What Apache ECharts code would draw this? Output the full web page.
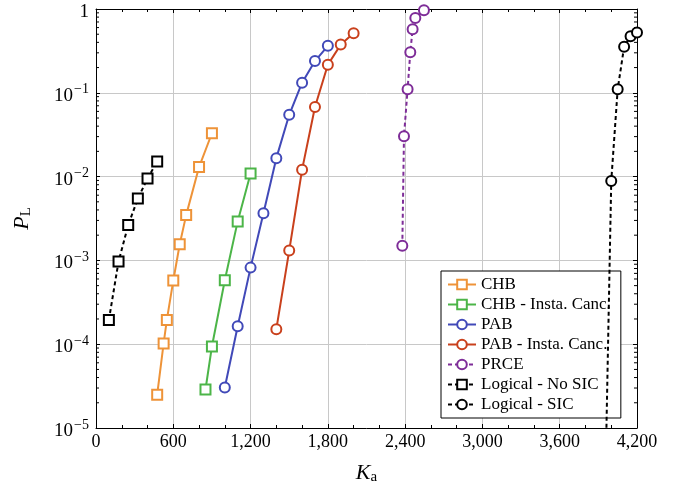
<!DOCTYPE html>
<html><head><meta charset="utf-8">
<script src="https://cdn.jsdelivr.net/npm/echarts@6/dist/echarts.min.js"></script>
<style>html,body{margin:0;padding:0;background:#fff}#c{width:688px;height:490px}</style>
</head><body><div id="c"></div>
<script>
// ---- data ----
const xTicks = [0, 600, 1200, 1800, 2400, 3000, 3600, 4200];
const yTicks = [1e-5, 1e-4, 1e-3, 1e-2, 1e-1, 1];

const chbK = [475, 525, 550, 600, 650, 700, 800, 900];
const chbP = [2.5e-5, 1.02e-4, 1.95e-4, 5.75e-4, 1.56e-3, 3.47e-3, 1.3e-2, 3.29e-2];

const chbIcK = [850, 900, 1000, 1100, 1200];
const chbIcP = [2.88e-5, 9.4e-5, 5.8e-4, 2.92e-3, 1.09e-2];

const pabK = [1000, 1100, 1200, 1300, 1400, 1500, 1600, 1700, 1800];
const pabP = [3.04e-5, 1.64e-4, 8.2e-4, 3.66e-3, 1.66e-2, 5.47e-2, 0.132, 0.239, 0.364];

const pabIcK = [1400, 1500, 1600, 1700, 1800, 1900, 2000];
const pabIcP = [1.51e-4, 1.31e-3, 1.21e-2, 6.76e-2, 0.216, 0.376, 0.515];

const prceK = [2378, 2391, 2419, 2440, 2458, 2479, 2546];
const prceP = [1.5e-3, 3.03e-2, 0.11, 0.304, 0.574, 0.782, 0.966];

const noSicK = [100, 175, 250, 325, 400, 475];
const noSicP = [1.95e-4, 9.7e-4, 2.64e-3, 5.47e-3, 9.5e-3, 1.51e-2];

const sicK = [3950, 4000, 4050, 4100, 4150, 4200];
const sicP = [1e-6, 8.85e-3, 0.11, 0.354, 0.474, 0.525];

const seriesNames = ['CHB', 'CHB - Insta. Canc.', 'PAB', 'PAB - Insta. Canc.', 'PRCE', 'Logical - No SIC', 'Logical - SIC'];

// ---- chart ----
const FONT = 'Liberation Serif';
const zip = (a, b) => a.map((v, i) => [v, b[i]]);
function mk(name, xs, ys, color, symbol, dashed) {
  return {
    name, type: 'line', data: zip(xs, ys), xAxisIndex: 0, yAxisIndex: 0,
    symbol, symbolSize: 10, showSymbol: true,
    lineStyle: { color, width: 2, type: dashed ? [4, 3] : 'solid' },
    itemStyle: { color, borderColor: color, borderWidth: 2 },
    emphasis: { disabled: true }, z: 5
  };
}
// log minor tick positions (axis decoration)
const yMinor = [];
for (let e = -5; e < 0; e++) for (let d = 2; d <= 9; d++) yMinor.push([0, d * Math.pow(10, e)]);

function yLabel(v) {
  if (Math.abs(v - 1) < 1e-12) return '{b|1}';
  const e = Math.round(Math.log10(v));
  return '{b|10}{s|\u2212' + Math.abs(e) + '}';
}

const chart = echarts.init(document.getElementById('c'), null, { renderer: 'canvas' });
const axisLineStyle = { color: '#000', width: 1 };
const option = {
  animation: false,
  backgroundColor: '#fff',
  grid: { left: 96, right: 51, top: 9, bottom: 60, containLabel: false },
  textStyle: { fontFamily: FONT },
  legend: {
    data: seriesNames, orient: 'vertical', left: 441, top: 271,
    backgroundColor: '#fff', borderColor: '#000', borderWidth: 1, borderRadius: 0,
    padding: [5, 10, 5, 6], itemWidth: 28, itemHeight: 12, itemGap: 3,
    textStyle: { fontFamily: FONT, fontSize: 17, color: '#000' },
    selectedMode: false
  },
  xAxis: [{
    type: 'value', min: xTicks[0], max: xTicks[xTicks.length - 1], interval: 600, position: 'bottom',
    axisLine: { show: true, onZero: false, lineStyle: axisLineStyle },
    axisTick: { show: true, inside: true, length: 4, lineStyle: { color: '#000' } },
    minorTick: { show: true, splitNumber: 3, length: 3, lineStyle: { color: '#000' } },
    splitLine: { show: true, lineStyle: { color: '#c8c8c8', width: 1 } },
    axisLabel: { fontFamily: FONT, fontSize: 18, color: '#000', margin: 5,
      formatter: v => v.toLocaleString('en-US') },
    name: '{k|K}{a|a}', nameLocation: 'middle', nameGap: 33,
    nameTextStyle: { rich: {
      k: { fontFamily: FONT, fontSize: 22, fontStyle: 'italic', color: '#000' },
      a: { fontFamily: FONT, fontSize: 15, color: '#000', padding: [9, 0, 0, 0] } } }
  }, {
    type: 'value', min: xTicks[0], max: xTicks[xTicks.length - 1], interval: 600, position: 'top',
    axisLine: { show: true, onZero: false, lineStyle: axisLineStyle },
    axisTick: { show: true, inside: true, length: 4, lineStyle: { color: '#000' } },
    minorTick: { show: true, splitNumber: 3, length: 3, lineStyle: { color: '#000' } },
    splitLine: { show: false }, axisLabel: { show: false }
  }],
  yAxis: [{
    type: 'log', logBase: 10, min: yTicks[0], max: yTicks[yTicks.length - 1], splitNumber: 5, position: 'left',
    axisLine: { show: true, onZero: false, lineStyle: axisLineStyle },
    axisTick: { show: true, inside: true, length: 4, lineStyle: { color: '#000' } },
    splitLine: { show: true, lineStyle: { color: '#c8c8c8', width: 1 } },
    axisLabel: { margin: 7, formatter: yLabel, rich: {
      b: { fontFamily: FONT, fontSize: 19, color: '#000', padding: [6, 0, 0, 0] },
      s: { fontFamily: FONT, fontSize: 14, color: '#000', padding: [0, 0, 6, 1] } } },
    name: '{p|P}{l|L}', nameLocation: 'middle', nameGap: 62,
    nameTextStyle: { rich: {
      p: { fontFamily: FONT, fontSize: 22, fontStyle: 'italic', color: '#000' },
      l: { fontFamily: FONT, fontSize: 15, color: '#000', padding: [9, 0, 0, 0] } } }
  }, {
    type: 'log', logBase: 10, min: yTicks[0], max: yTicks[yTicks.length - 1], splitNumber: 5, position: 'right',
    axisLine: { show: true, onZero: false, lineStyle: axisLineStyle },
    axisTick: { show: true, inside: true, length: 4, lineStyle: { color: '#000' } },
    splitLine: { show: false }, axisLabel: { show: false }
  }],
  series: [
    mk(seriesNames[0], chbK, chbP, '#EE9338', 'emptyRect', false),
    mk(seriesNames[1], chbIcK, chbIcP, '#4CB548', 'emptyRect', false),
    mk(seriesNames[2], pabK, pabP, '#4149B8', 'emptyCircle', false),
    mk(seriesNames[3], pabIcK, pabIcP, '#C9401C', 'emptyCircle', false),
    mk(seriesNames[4], prceK, prceP, '#7E2D98', 'emptyCircle', true),
    mk(seriesNames[5], noSicK, noSicP, '#000000', 'emptyRect', true),
    mk(seriesNames[6], sicK, sicP, '#000000', 'emptyCircle', true),
    {
      name: 'yMinorTicks', type: 'custom', data: yMinor, silent: true, clip: false, z: 3,
      renderItem: (params, api) => {
        const v = api.value(1);
        const a = api.coord([xTicks[0], v]);
        const b = api.coord([xTicks[xTicks.length - 1], v]);
        return { type: 'group', children: [
          { type: 'line', shape: { x1: a[0], y1: a[1], x2: a[0] + 3, y2: a[1] }, style: { stroke: '#000', lineWidth: 1 } },
          { type: 'line', shape: { x1: b[0] - 3, y1: b[1], x2: b[0], y2: b[1] }, style: { stroke: '#000', lineWidth: 1 } }
        ] };
      }
    }
  ]
};
chart.setOption(option);
</script>
</body></html>
